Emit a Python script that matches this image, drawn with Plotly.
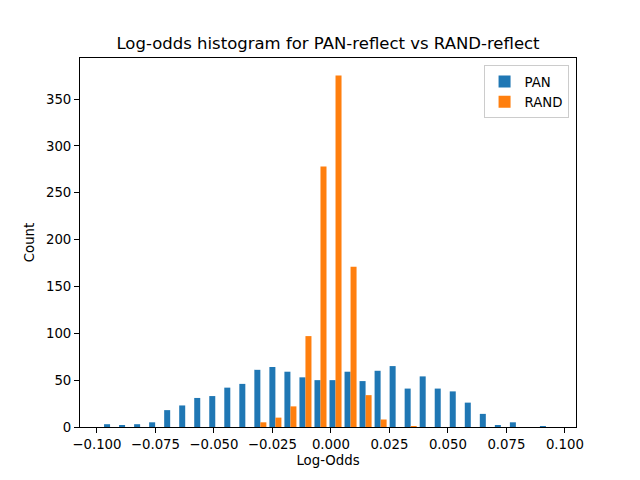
import plotly.graph_objects as go

# Histogram bins (30 equal bins between these edges)
bin_lo = -0.0976
bin_hi = 0.0951
n_bins = 30

pan_counts = [3, 2, 3, 5, 18, 23, 31, 33, 42, 46,
              61, 64, 59, 53, 50, 50, 59, 49, 60, 65,
              41, 54, 41, 38, 26, 14, 2, 5, 0, 1]
rand_counts = [0, 0, 0, 0, 0, 0, 0, 0, 0, 0,
               5, 10, 22, 97, 278, 375, 171, 34, 8, 0,
               1, 0, 0, 0, 0, 0, 0, 0, 0, 0]

x_ticks = [-0.100, -0.075, -0.050, -0.025, 0.000, 0.025, 0.050, 0.075, 0.100]
y_ticks = [0, 50, 100, 150, 200, 250, 300, 350]

w = (bin_hi - bin_lo) / n_bins
centers = [bin_lo + (i + 0.5) * w for i in range(n_bins)]
span = bin_hi - bin_lo
ymax = max(max(pan_counts), max(rand_counts)) * 1.05

fig = go.Figure()
fig.add_trace(go.Bar(x=centers, y=pan_counts, width=0.4 * w, offset=-0.4 * w,
                     name="PAN", marker=dict(color="#1f77b4", line=dict(width=0))))
fig.add_trace(go.Bar(x=centers, y=rand_counts, width=0.4 * w, offset=0,
                     name="RAND", marker=dict(color="#ff7f0e", line=dict(width=0))))

font = "DejaVu Sans, sans-serif"
fig.update_layout(
    width=640, height=480,
    barmode="overlay",
    plot_bgcolor="white", paper_bgcolor="white",
    margin=dict(l=80, r=64, t=57.6, b=52.8),
    font=dict(family=font, size=13.3, color="black"),
    title=dict(text="Log-odds histogram for PAN-reflect vs RAND-reflect",
               x=0.5, xref="paper", xanchor="center",
               y=1 - 43 / 480, yref="container", yanchor="middle",
               font=dict(family=font, size=16.5, color="black")),
    showlegend=True,
    legend=dict(x=0.985, xanchor="right", y=0.98, yanchor="top",
                bordercolor="#cccccc", borderwidth=1, bgcolor="rgba(255,255,255,0.8)",
                font=dict(family=font, size=13.3)),
    xaxis=dict(range=[bin_lo - 0.05 * span, bin_hi + 0.05 * span],
               tickvals=x_ticks, tickformat=".3f",
               ticks="outside", ticklen=5, tickcolor="black", tickwidth=1,
               showline=True, linecolor="black", linewidth=1, mirror=True,
               showgrid=False, zeroline=False,
               title=dict(text="Log-Odds", standoff=4,
                          font=dict(family=font, size=13.3, color="black"))),
    yaxis=dict(range=[0, ymax],
               tickvals=y_ticks,
               ticks="outside", ticklen=5, tickcolor="black", tickwidth=1,
               showline=True, linecolor="black", linewidth=1, mirror=True,
               showgrid=False, zeroline=False,
               title=dict(text="Count", standoff=8,
                          font=dict(family=font, size=13.3, color="black"))),
)

fig.write_html("out.html", config={"displayModeBar": False},
               post_script="document.body.style.margin='0';document.body.style.padding='0';")
